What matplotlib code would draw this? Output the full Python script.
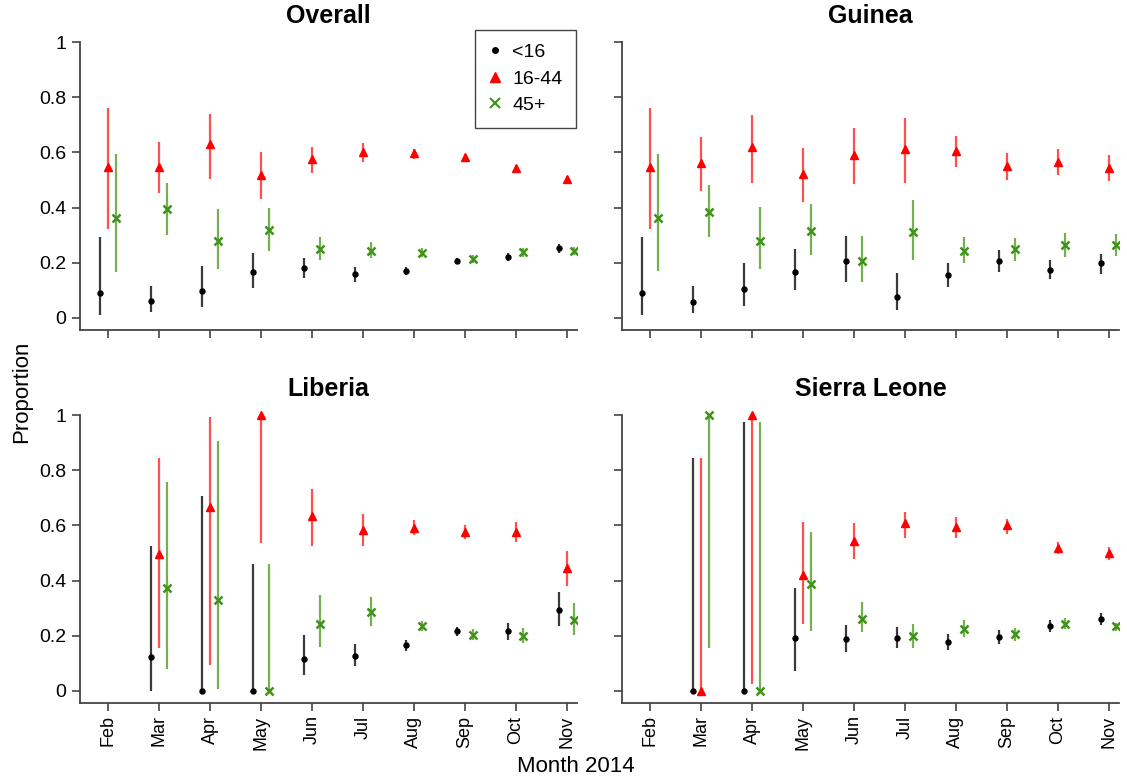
import numpy as np
import matplotlib
matplotlib.use("Agg")
import matplotlib.pyplot as plt
from matplotlib.lines import Line2D

plt.rcParams['font.family'] = ['Liberation Sans', 'DejaVu Sans']

months = ['Feb', 'Mar', 'Apr', 'May', 'Jun', 'Jul', 'Aug', 'Sep', 'Oct', 'Nov']
groups = ['<16', '16-44', '45+']
nan = np.nan

# Overall
overall_u16 = [0.092, 0.060, 0.099, 0.165, 0.180, 0.159, 0.169, 0.208, 0.221, 0.252]
overall_u16_lo = [0.011, 0.023, 0.039, 0.107, 0.144, 0.132, 0.155, 0.196, 0.208, 0.237]
overall_u16_hi = [0.292, 0.117, 0.190, 0.237, 0.219, 0.186, 0.186, 0.219, 0.234, 0.267]
overall_mid = [0.548, 0.548, 0.629, 0.519, 0.575, 0.600, 0.597, 0.582, 0.542, 0.504]
overall_mid_lo = [0.321, 0.452, 0.502, 0.432, 0.527, 0.564, 0.575, 0.570, 0.529, 0.490]
overall_mid_hi = [0.760, 0.639, 0.738, 0.601, 0.618, 0.633, 0.612, 0.594, 0.556, 0.516]
overall_45 = [0.364, 0.394, 0.280, 0.319, 0.250, 0.244, 0.237, 0.213, 0.238, 0.244]
overall_45_lo = [0.168, 0.301, 0.179, 0.244, 0.210, 0.216, 0.220, 0.198, 0.222, 0.228]
overall_45_hi = [0.594, 0.488, 0.395, 0.400, 0.292, 0.274, 0.252, 0.228, 0.252, 0.258]

# Guinea
guinea_u16 = [0.092, 0.057, 0.104, 0.168, 0.207, 0.077, 0.155, 0.207, 0.173, 0.198]
guinea_u16_lo = [0.011, 0.019, 0.043, 0.101, 0.132, 0.029, 0.114, 0.168, 0.140, 0.159]
guinea_u16_hi = [0.292, 0.117, 0.200, 0.251, 0.298, 0.162, 0.198, 0.246, 0.210, 0.232]
guinea_mid = [0.548, 0.563, 0.621, 0.521, 0.591, 0.612, 0.605, 0.552, 0.566, 0.545]
guinea_mid_lo = [0.321, 0.460, 0.490, 0.419, 0.486, 0.490, 0.546, 0.500, 0.519, 0.498]
guinea_mid_hi = [0.760, 0.657, 0.736, 0.617, 0.687, 0.723, 0.661, 0.599, 0.611, 0.589]
guinea_45 = [0.364, 0.384, 0.280, 0.316, 0.205, 0.310, 0.244, 0.249, 0.264, 0.264]
guinea_45_lo = [0.171, 0.292, 0.176, 0.227, 0.132, 0.210, 0.198, 0.208, 0.222, 0.225]
guinea_45_hi = [0.594, 0.482, 0.401, 0.412, 0.298, 0.428, 0.295, 0.289, 0.307, 0.303]

# Liberia
liberia_u16 = [nan, 0.123, 0.0, 0.0, 0.116, 0.128, 0.167, 0.218, 0.218, 0.295]
liberia_u16_lo = [nan, 0.0, 0.0, 0.0, 0.059, 0.089, 0.144, 0.200, 0.186, 0.236]
liberia_u16_hi = [nan, 0.525, 0.708, 0.459, 0.202, 0.172, 0.184, 0.232, 0.248, 0.357]
liberia_mid = [nan, 0.498, 0.667, 1.0, 0.635, 0.583, 0.592, 0.576, 0.576, 0.444]
liberia_mid_lo = [nan, 0.154, 0.093, 0.537, 0.525, 0.525, 0.565, 0.549, 0.539, 0.380]
liberia_mid_hi = [nan, 0.845, 0.992, 1.0, 0.732, 0.641, 0.619, 0.601, 0.613, 0.507]
liberia_45 = [nan, 0.374, 0.331, 0.0, 0.244, 0.287, 0.236, 0.204, 0.200, 0.259]
liberia_45_lo = [nan, 0.081, 0.008, 0.0, 0.160, 0.235, 0.218, 0.186, 0.174, 0.204]
liberia_45_hi = [nan, 0.756, 0.906, 0.459, 0.347, 0.339, 0.254, 0.226, 0.229, 0.319]

# Sierra Leone
sl_u16 = [nan, 0.0, 0.0, 0.193, 0.189, 0.193, 0.178, 0.196, 0.235, 0.262]
sl_u16_lo = [nan, 0.0, 0.0, 0.071, 0.141, 0.154, 0.148, 0.172, 0.214, 0.238]
sl_u16_hi = [nan, 0.843, 0.976, 0.374, 0.238, 0.232, 0.208, 0.220, 0.256, 0.284]
sl_mid = [nan, 0.0, 1.0, 0.422, 0.544, 0.607, 0.595, 0.600, 0.519, 0.501]
sl_mid_lo = [nan, 0.0, 0.027, 0.242, 0.480, 0.553, 0.556, 0.568, 0.496, 0.476]
sl_mid_hi = [nan, 0.843, 1.0, 0.611, 0.607, 0.649, 0.631, 0.625, 0.541, 0.522]
sl_45 = [nan, 1.0, 0.0, 0.386, 0.262, 0.200, 0.226, 0.206, 0.244, 0.235]
sl_45_lo = [nan, 0.156, 0.0, 0.216, 0.212, 0.154, 0.196, 0.181, 0.224, 0.218]
sl_45_hi = [nan, 1.0, 0.976, 0.577, 0.323, 0.244, 0.259, 0.230, 0.265, 0.248]

panels = [
    ('Overall', [(overall_u16, overall_u16_lo, overall_u16_hi),
                 (overall_mid, overall_mid_lo, overall_mid_hi),
                 (overall_45, overall_45_lo, overall_45_hi)]),
    ('Guinea', [(guinea_u16, guinea_u16_lo, guinea_u16_hi),
                (guinea_mid, guinea_mid_lo, guinea_mid_hi),
                (guinea_45, guinea_45_lo, guinea_45_hi)]),
    ('Liberia', [(liberia_u16, liberia_u16_lo, liberia_u16_hi),
                 (liberia_mid, liberia_mid_lo, liberia_mid_hi),
                 (liberia_45, liberia_45_lo, liberia_45_hi)]),
    ('Sierra Leone', [(sl_u16, sl_u16_lo, sl_u16_hi),
                      (sl_mid, sl_mid_lo, sl_mid_hi),
                      (sl_45, sl_45_lo, sl_45_hi)]),
]

colors = ['#000000', '#ff0000', '#3f9318']
bar_colors = ['#3a3a3a', '#ff5050', '#74b04f']
markers = ['o', '^', 'x']
msizes = [3.6, 6.2, 5.5]
offsets = [-0.15, 0.0, 0.15]

W, H = 1127, 780
fig = plt.figure(figsize=(W / 100, H / 100), dpi=100)

# left spine x, bottom spine y (pixels)
rects = [(80, 330), (622, 330), (80, 703), (622, 703)]
ax_w, ax_h = 497, 299
x = np.arange(len(months))

for i, ((title, series), (lx, by)) in enumerate(zip(panels, rects)):
    ax = fig.add_axes([lx / W, (H - by) / H, ax_w / W, ax_h / H])
    for k, (val, lo, hi) in enumerate(series):
        xs = x + offsets[k]
        ax.vlines(xs, lo, hi, color=bar_colors[k], lw=1.6, zorder=2)
        if markers[k] == 'x':
            ax.plot(xs, val, ls='none', marker='x', ms=msizes[k], mew=1.8,
                    color=colors[k], zorder=3)
        else:
            ax.plot(xs, val, ls='none', marker=markers[k], ms=msizes[k],
                    color=colors[k], mec=colors[k], zorder=3)
    ax.set_xlim(-0.55, 9.2)
    ax.set_ylim(-0.0435, 1.04)
    for s in ['top', 'right']:
        ax.spines[s].set_visible(False)
    for s in ['left', 'bottom']:
        ax.spines[s].set_color('#444444')
        ax.spines[s].set_linewidth(1.3)
    ax.spines['left'].set_bounds(-0.0435, 1.0)
    ax.set_yticks([0, 0.2, 0.4, 0.6, 0.8, 1.0])
    ax.set_xticks(x)
    ax.tick_params(direction='out', length=6, width=1.2, color='#444444',
                   labelsize=14, pad=4)
    ax.tick_params(axis='x', pad=3)
    if i % 2 == 0:
        ax.set_yticklabels(['0', '0.2', '0.4', '0.6', '0.8', '1'])
    else:
        ax.set_yticklabels([])
    if i >= 2:
        ax.set_xticklabels(months, rotation=90, fontsize=13)
    else:
        ax.set_xticklabels([])
    ax.text(0.5, 1.01, title, transform=ax.transAxes, fontsize=18,
            fontweight='bold', ha='center', va='bottom')
    if i == 0:
        handles = [Line2D([], [], ls='none', marker=markers[k],
                          ms=[4, 7, 6.5][k], mew=1.5 if k == 2 else 1,
                          color=colors[k]) for k in range(3)]
        ax.legend(handles, groups, loc='upper right',
                  bbox_to_anchor=(576 / W, (H - 30) / H),
                  bbox_transform=fig.transFigure,
                  fontsize=14, frameon=True, fancybox=False, edgecolor='#444444',
                  handlelength=0.6, handletextpad=0.6, borderpad=0.7,
                  labelspacing=0.45, borderaxespad=0.0, framealpha=1)

fig.text(22 / W, (H - 392) / H, 'Proportion', rotation=90, fontsize=16,
         ha='center', va='center')
fig.text(576 / W, (H - 766) / H, 'Month 2014', fontsize=16,
         ha='center', va='center')

fig.savefig('out.png', dpi=100)
